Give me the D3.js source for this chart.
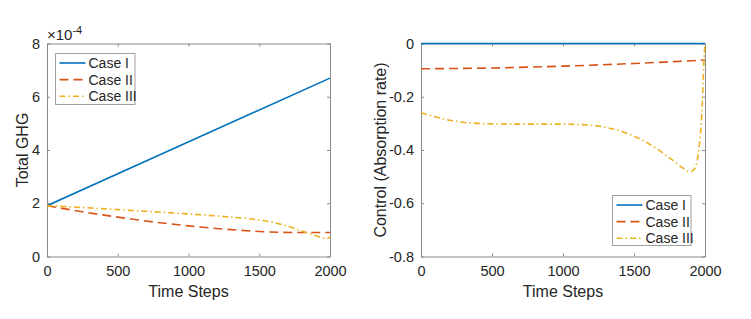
<!DOCTYPE html>
<html>
<head>
<meta charset="utf-8">
<script src="https://cdn.jsdelivr.net/npm/d3@7"></script>
<style>
  body { margin: 0; background: #fff; }
  svg { font-family: "Liberation Sans", Arial, Helvetica, sans-serif; }
</style>
</head>
<body>
<svg id="chart" width="751" height="319"></svg>
<script>
// ---------- data ----------
const xTicks = [0, 500, 1000, 1500, 2000];
const ghgTicks = [0, 2, 4, 6, 8];
const ctrlTicks = [0, -0.2, -0.4, -0.6, -0.8];
const seriesNames = ["Case I", "Case II", "Case III"];

// Total GHG (units of 1e-4)
const ghgCase1T = [0, 2000];
const ghgCase1V = [1.91, 6.7];
const ghgCase2T = [0, 250, 500, 750, 1000, 1250, 1500, 1750, 2000];
const ghgCase2V = [1.91, 1.68, 1.48, 1.30, 1.15, 1.03, 0.94, 0.90, 0.90];
const ghgCase3T = [0, 250, 500, 750, 1000, 1250, 1500, 1600, 1700, 1800, 1900, 1950, 1975, 2000];
const ghgCase3V = [1.91, 1.84, 1.76, 1.68, 1.60, 1.50, 1.37, 1.28, 1.14, 0.96, 0.78, 0.70, 0.68, 0.72];

// Control (absorption rate)
const ctrlCase1T = [0, 2000];
const ctrlCase1V = [0, 0];
const ctrlCase2T = [0, 500, 1000, 1500, 2000];
const ctrlCase2V = [-0.095, -0.092, -0.085, -0.075, -0.062];
const ctrlCase3T = [0, 100, 200, 300, 400, 500, 750, 1000, 1200, 1300, 1400, 1500, 1600, 1700, 1800, 1850, 1890, 1920, 1945, 1962, 1975, 1985, 1993, 2000];
const ctrlCase3V = [-0.26, -0.275, -0.288, -0.296, -0.300, -0.302, -0.303, -0.303, -0.307, -0.315, -0.328, -0.348, -0.375, -0.41, -0.45, -0.47, -0.482, -0.475, -0.44, -0.37, -0.29, -0.17, -0.06, 0];

const colors = ["#0072BD", "#D95319", "#EDB120"];
const dashes = [null, "9,5", "6,3,1.5,3"];

// ---------- drawing ----------
const svg = d3.select("#chart");
const axisColor = "#8a8a8a";
const textColor = "#262626";

function zip(t, v) { return t.map((d, i) => ({ t: d, v: v[i] })); }

function panel(opts) {
  const g = svg.append("g");
  const x = d3.scaleLinear().domain([0, 2000]).range([opts.x0, opts.x1]);
  const y = d3.scaleLinear().domain(opts.yDomain).range([opts.y0, opts.y1]);

  const clipId = "clip" + opts.id;
  svg.append("clipPath").attr("id", clipId).append("rect")
    .attr("x", opts.x0).attr("y", opts.y1 - 2)
    .attr("width", opts.x1 - opts.x0 + 1).attr("height", opts.y0 - opts.y1 + 3);

  const fmt = opts.fmt;
  const bottom = g.append("g").attr("transform", `translate(0,${opts.y0})`)
    .call(d3.axisBottom(x).tickValues(xTicks).tickSizeInner(-3).tickSizeOuter(0).tickPadding(9).tickFormat(d3.format("d")));
  const top = g.append("g").attr("transform", `translate(0,${opts.y1})`)
    .call(d3.axisTop(x).tickValues(xTicks).tickSizeInner(-3).tickSizeOuter(0).tickFormat(""));
  const left = g.append("g").attr("transform", `translate(${opts.x0},0)`)
    .call(d3.axisLeft(y).tickValues(opts.yTicks).tickSizeInner(-3).tickSizeOuter(0).tickPadding(7).tickFormat(fmt));
  const right = g.append("g").attr("transform", `translate(${opts.x1},0)`)
    .call(d3.axisRight(y).tickValues(opts.yTicks).tickSizeInner(-3).tickSizeOuter(0).tickFormat(""));
  [bottom, top, left, right].forEach(a => {
    a.select(".domain").attr("stroke", axisColor).attr("stroke-width", 1);
    a.selectAll(".tick line").attr("stroke", axisColor);
    a.selectAll(".tick text").attr("fill", textColor).style("font-size", "14.5px");
  });

  const line = d3.line().x(d => x(d.t)).y(d => y(d.v)).curve(d3.curveMonotoneX);
  const lg = g.append("g").attr("clip-path", `url(#${clipId})`);
  opts.series.forEach((s, i) => {
    lg.append("path").datum(s).attr("d", line)
      .attr("fill", "none").attr("stroke", colors[i]).attr("stroke-width", 1.6)
      .attr("stroke-dasharray", dashes[i]);
  });

  // axis titles
  g.append("text").attr("x", (opts.x0 + opts.x1) / 2).attr("y", opts.y0 + 40)
    .attr("text-anchor", "middle").attr("fill", textColor).style("font-size", "16px").text("Time Steps");
  g.append("text").attr("transform", `translate(${opts.yLabelX},${(opts.y0 + opts.y1) / 2}) rotate(-90)`)
    .attr("text-anchor", "middle").attr("fill", textColor).style("font-size", "16px").text(opts.yLabel);

  // legend
  const L = opts.legend;
  g.append("rect").attr("x", L.x).attr("y", L.y).attr("width", L.w).attr("height", L.h)
    .attr("fill", "#fff").attr("stroke", "#a0a0a0").attr("stroke-width", 1);
  seriesNames.forEach((name, i) => {
    const yy = L.y + 9.5 + i * 16.6;
    g.append("line").attr("x1", L.x + 4).attr("x2", L.x + 30).attr("y1", yy).attr("y2", yy)
      .attr("stroke", colors[i]).attr("stroke-width", 1.6).attr("stroke-dasharray", dashes[i]);
    g.append("text").attr("x", L.x + 33).attr("y", yy + 5).attr("fill", textColor)
      .style("font-size", "14px").text(name);
  });
  return g;
}

panel({
  id: 1, x0: 47, x1: 330, y0: 256.5, y1: 43.5,
  yDomain: [0, 8], yTicks: ghgTicks, fmt: d3.format("d"),
  yLabel: "Total GHG", yLabelX: 28,
  series: [zip(ghgCase1T, ghgCase1V), zip(ghgCase2T, ghgCase2V), zip(ghgCase3T, ghgCase3V)],
  legend: { x: 55.5, y: 53.5, w: 79.5, h: 51 }
});

panel({
  id: 2, x0: 421, x1: 705, y0: 256.5, y1: 43.5,
  yDomain: [-0.8, 0], yTicks: ctrlTicks, fmt: d => d === 0 ? "0" : String(d),
  yLabel: "Control (Absorption rate)", yLabelX: 386,
  series: [zip(ctrlCase1T, ctrlCase1V), zip(ctrlCase2T, ctrlCase2V), zip(ctrlCase3T, ctrlCase3V)],
  legend: { x: 612.5, y: 195.5, w: 78.5, h: 50 }
});

// exponent label
const ex = svg.append("text").attr("x", 47).attr("y", 40).attr("fill", textColor).style("font-size", "15px");
ex.append("tspan").text("\u00d710");
ex.append("tspan").attr("dy", -6).style("font-size", "11px").text("-4");
</script>
</body>
</html>
